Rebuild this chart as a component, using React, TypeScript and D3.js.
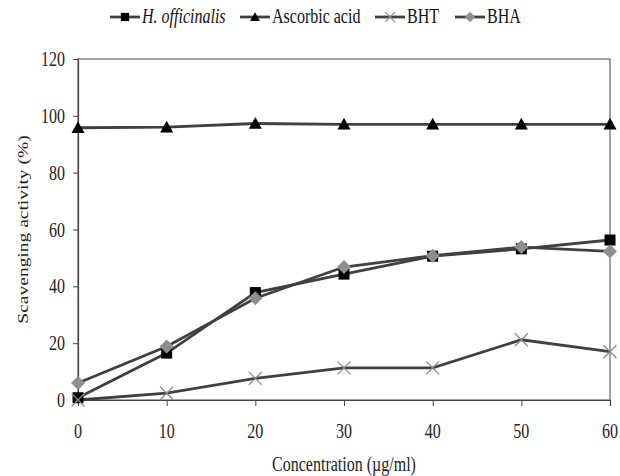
import React, { useRef, useEffect } from "react";
import * as d3 from "d3";

const concentrations = [0, 10, 20, 30, 40, 50, 60];
const hOfficinalis = [0.8, 16.5, 37.8, 44.3, 50.6, 53.2, 56.3];
const ascorbicAcid = [95.8, 96.0, 97.3, 97.0, 97.0, 97.0, 97.0];
const bht = [0, 2.4, 7.6, 11.3, 11.3, 21.2, 17.0];
const bha = [6.0, 18.8, 35.8, 46.8, 50.8, 53.8, 52.3];
const yTicks = [0, 20, 40, 60, 80, 100, 120];

const series = [
  { name: "H. officinalis", values: hOfficinalis, marker: "square", color: "#000", italic: true },
  { name: "Ascorbic acid", values: ascorbicAcid, marker: "triangle", color: "#000", italic: false },
  { name: "BHT", values: bht, marker: "x", color: "#8c8c8c", italic: false },
  { name: "BHA", values: bha, marker: "diamond", color: "#8f8f8f", italic: false },
];

const W = 620, H = 476;
const margin = { left: 78, right: 10, top: 59, bottom: 76 };
const font = "'Liberation Serif', 'Times New Roman', serif";
const squeeze = 0.8;

function drawMarker(g, type, x, y, color, scale = 1) {
  if (type === "square") {
    const s = 11 * scale;
    g.append("rect").attr("x", x - s / 2).attr("y", y - s / 2).attr("width", s).attr("height", s).attr("fill", color);
  } else if (type === "triangle") {
    const s = 6.5 * scale;
    g.append("path")
      .attr("d", `M${x},${y - s}L${x + s},${y + s * 0.8}L${x - s},${y + s * 0.8}Z`)
      .attr("fill", color);
  } else if (type === "diamond") {
    const s = 7 * scale;
    g.append("path")
      .attr("d", `M${x},${y - s}L${x + s},${y}L${x},${y + s}L${x - s},${y}Z`)
      .attr("fill", color);
  } else {
    const s = 6.5 * scale;
    g.append("path")
      .attr("d", `M${x - s},${y - s}L${x + s},${y + s}M${x - s},${y + s}L${x + s},${y - s}`)
      .attr("stroke", color).attr("stroke-width", 1.3).attr("fill", "none");
  }
}

function label(svg, x, y, text, anchor, opts = {}) {
  return svg.append("text")
    .attr("transform", `translate(${x},${y}) scale(${squeeze},1)`)
    .attr("text-anchor", anchor)
    .attr("font-family", font)
    .attr("font-size", opts.size || 20)
    .attr("font-style", opts.italic ? "italic" : "normal")
    .attr("fill", opts.fill || "#222")
    .text(text);
}

export default function App() {
  const svgRef = useRef(null);

  useEffect(() => {
    const svg = d3.select(svgRef.current);
    svg.selectAll("*").remove();

    const x = d3.scaleLinear().domain([0, 60]).range([margin.left, W - margin.right]);
    const y = d3.scaleLinear().domain([0, 120]).range([H - margin.bottom, margin.top]);

    // plot box
    svg.append("rect")
      .attr("x", x(0)).attr("y", y(120))
      .attr("width", x(60) - x(0)).attr("height", y(0) - y(120))
      .attr("fill", "none").attr("stroke", "#666").attr("stroke-width", 1.2);

    const yAxis = d3.axisLeft(y).tickValues(yTicks).tickSize(5).tickFormat(() => "");
    const gy = svg.append("g").attr("transform", `translate(${x(0)},0)`).call(yAxis);
    const xAxis = d3.axisBottom(x).tickValues(concentrations).tickSize(6).tickFormat(() => "");
    const gx = svg.append("g").attr("transform", `translate(0,${y(0)})`).call(xAxis);
    [gx, gy].forEach((g) => {
      g.select(".domain").attr("stroke", "#444").attr("stroke-width", 1.2);
      g.selectAll(".tick line").attr("stroke", "#444");
    });

    yTicks.forEach((t) => label(svg, 65, y(t) + 7, String(t), "end"));
    concentrations.forEach((c) => label(svg, x(c), 438, String(c), "middle"));

    const line = d3.line().x((d, i) => x(concentrations[i])).y((d) => y(d));
    series.forEach((s) => {
      svg.append("path").datum(s.values).attr("d", line)
        .attr("fill", "none").attr("stroke", "#404040").attr("stroke-width", 2.8);
    });
    series.forEach((s) => {
      const g = svg.append("g");
      s.values.forEach((v, i) => drawMarker(g, s.marker, x(concentrations[i]), y(v), s.color));
    });

    // legend
    const legendX = [110, 240, 375, 455];
    const ly = 17;
    series.forEach((s, i) => {
      const g = svg.append("g");
      g.append("line").attr("x1", legendX[i]).attr("x2", legendX[i] + 30)
        .attr("y1", ly).attr("y2", ly).attr("stroke", "#404040").attr("stroke-width", 2.8);
      drawMarker(g, s.marker, legendX[i] + 15, ly, s.color, 0.75);
      label(svg, legendX[i] + 32, ly + 6, s.name, "start", { italic: s.italic, fill: "#111" });
    });

    label(svg, (x(0) + x(60)) / 2, 471, "Concentration (µg/ml)", "middle");

    svg.append("text")
      .attr("transform", `translate(28,${(y(0) + y(120)) / 2}) rotate(-90) scale(1,${squeeze})`)
      .attr("text-anchor", "middle").attr("font-family", font).attr("font-size", 19.5).attr("fill", "#222")
      .text("Scavenging activity (%)");
  }, []);

  return (
    <svg ref={svgRef} width={W} height={H} style={{ position: "absolute", left: 0, top: 0, background: "#fff" }} />
  );
}
